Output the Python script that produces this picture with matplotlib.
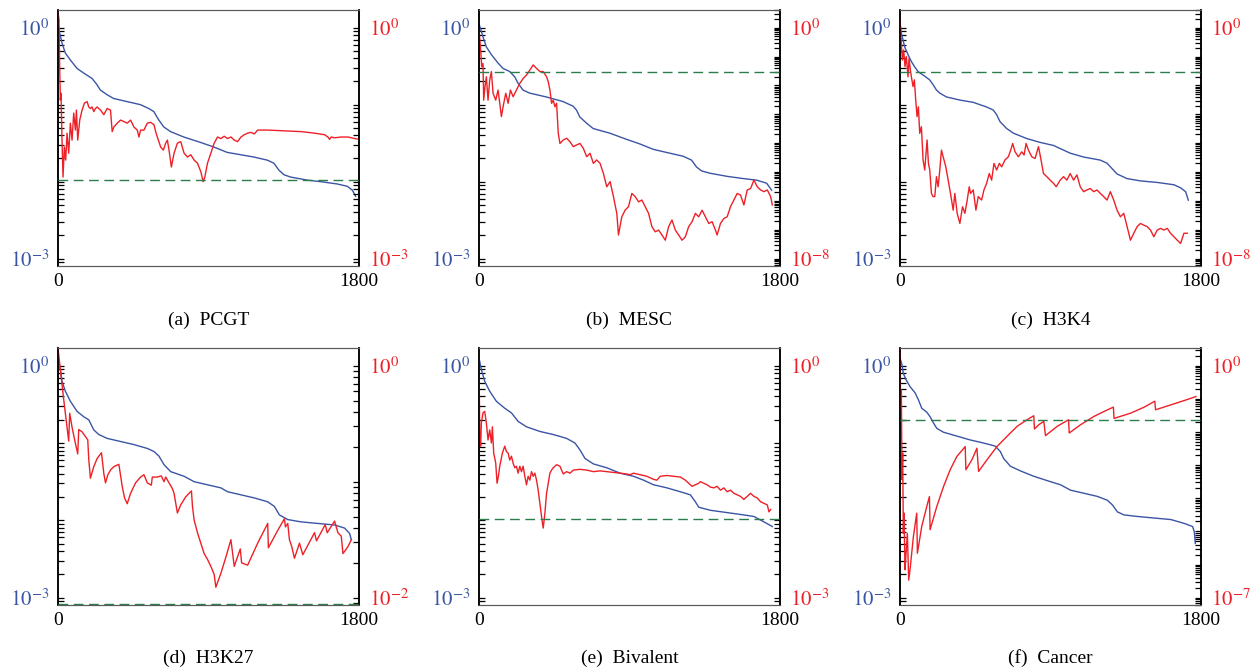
import numpy as np
import matplotlib
matplotlib.use('Agg')
import matplotlib.pyplot as plt
from matplotlib.ticker import LogLocator, NullFormatter

plt.rcParams['font.family'] = 'serif'
plt.rcParams['font.serif'] = ['Liberation Serif', 'DejaVu Serif']
plt.rcParams['mathtext.fontset'] = 'stix'

# values are (x, log10 y)
pcgt_blue = [(0, 0.0), (6, -0.03), (24, -0.20), (44, -0.33), (74, -0.42), (114, -0.53), (154, -0.59),
             (204, -0.66), (233, -0.74), (253, -0.81), (293, -0.87), (333, -0.92), (413, -0.96),
             (493, -1.00), (543, -1.05), (573, -1.09), (603, -1.20), (633, -1.29), (673, -1.35),
             (752, -1.42), (852, -1.49), (932, -1.55), (1012, -1.62), (1092, -1.65), (1171, -1.68),
             (1251, -1.72), (1291, -1.76), (1321, -1.85), (1351, -1.91), (1391, -1.94), (1491, -1.98),
             (1571, -2.00), (1670, -2.03), (1730, -2.06), (1760, -2.11), (1780, -2.19)]
pcgt_red = [(0, 0.2), (6, 0.10), (10, -0.51), (14, -0.94), (18, -0.85), (24, -1.46), (30, -1.94),
            (38, -1.55), (46, -1.72), (54, -1.37), (64, -1.63), (74, -1.24), (84, -1.46), (94, -1.11),
            (104, -1.33), (110, -1.07), (118, -1.46), (130, -1.20), (144, -1.07), (158, -0.98),
            (174, -0.96), (184, -1.03), (194, -1.05), (204, -1.03), (214, -1.09), (224, -1.05),
            (234, -1.03), (254, -1.07), (274, -1.13), (294, -1.05), (314, -1.07), (324, -1.35),
            (334, -1.29), (354, -1.24), (374, -1.20), (394, -1.22), (414, -1.24), (434, -1.20),
            (454, -1.29), (474, -1.33), (484, -1.42), (494, -1.33), (514, -1.33), (534, -1.24),
            (554, -1.23), (574, -1.26), (584, -1.35), (594, -1.42), (614, -1.55), (630, -1.59),
            (644, -1.50), (654, -1.46), (664, -1.59), (678, -1.81), (694, -1.63), (714, -1.50),
            (734, -1.48), (754, -1.63), (774, -1.68), (794, -1.65), (814, -1.72), (834, -1.76),
            (854, -1.87), (868, -2.00), (878, -1.94), (894, -1.76), (914, -1.63), (934, -1.50),
            (954, -1.42), (974, -1.44), (994, -1.41), (1014, -1.44), (1034, -1.42), (1054, -1.46),
            (1074, -1.48), (1094, -1.42), (1114, -1.39), (1134, -1.37), (1154, -1.36), (1174, -1.38),
            (1194, -1.33), (1214, -1.33), (1254, -1.33), (1354, -1.34), (1454, -1.35), (1534, -1.37),
            (1594, -1.39), (1614, -1.42), (1624, -1.45), (1634, -1.42), (1654, -1.43), (1694, -1.42),
            (1734, -1.42), (1774, -1.44), (1800, -1.45)]

mesc_blue = [(0, 0.05), (24, -0.12), (44, -0.25), (74, -0.35), (114, -0.46), (144, -0.53), (184, -0.57),
             (214, -0.64), (233, -0.72), (263, -0.81), (303, -0.85), (403, -0.90), (503, -0.96),
             (563, -1.02), (583, -1.07), (603, -1.16), (643, -1.24), (683, -1.31), (782, -1.37),
             (882, -1.45), (962, -1.51), (1042, -1.58), (1121, -1.62), (1221, -1.67), (1271, -1.72),
             (1301, -1.81), (1331, -1.86), (1381, -1.89), (1481, -1.93), (1581, -1.96), (1660, -1.98),
             (1720, -2.02), (1750, -2.11)]
mesc_red = [(0, -0.08), (10, -0.77), (16, -1.35), (24, -1.24), (28, -2.51), (36, -2.04), (44, -1.70),
            (54, -2.51), (64, -1.81), (74, -1.52), (84, -2.27), (100, -2.51), (114, -2.16), (134, -3.08),
            (144, -2.74), (160, -2.27), (174, -2.62), (188, -2.16), (204, -2.39), (224, -2.16),
            (244, -1.93), (264, -1.76), (284, -1.64), (304, -1.47), (324, -1.29), (344, -1.41),
            (364, -1.52), (384, -1.52), (404, -1.70), (414, -1.87), (424, -2.16), (434, -2.62),
            (444, -2.51), (454, -2.74), (464, -2.62), (474, -3.66), (484, -4.01), (504, -3.89),
            (524, -3.83), (544, -3.95), (564, -4.12), (584, -4.06), (604, -4.01), (624, -4.18),
            (644, -4.47), (664, -4.35), (684, -4.70), (704, -4.58), (724, -4.70), (744, -5.05),
            (764, -5.51), (784, -5.33), (804, -5.85), (824, -6.43), (834, -7.18), (854, -6.55),
            (874, -6.32), (894, -6.20), (914, -5.74), (934, -5.85), (954, -6.03), (974, -5.97),
            (994, -6.20), (1014, -6.43), (1034, -6.89), (1054, -7.07), (1074, -7.01), (1094, -7.18),
            (1114, -7.36), (1134, -6.89), (1154, -6.66), (1174, -7.01), (1194, -7.18), (1214, -7.36),
            (1234, -7.24), (1254, -6.89), (1274, -6.72), (1294, -6.43), (1314, -6.55), (1334, -6.32),
            (1354, -6.55), (1374, -6.78), (1394, -6.72), (1414, -7.01), (1424, -7.18), (1444, -6.78),
            (1464, -6.61), (1484, -6.55), (1504, -6.20), (1524, -5.97), (1544, -5.74), (1564, -5.80),
            (1584, -6.14), (1604, -5.62), (1624, -5.57), (1644, -5.28), (1664, -5.51), (1684, -5.62),
            (1704, -5.68), (1724, -5.62), (1744, -5.85), (1754, -6.14)]

h3k4_blue = [(0, 0.06), (8, -0.07), (18, -0.16), (28, -0.25), (48, -0.35), (68, -0.44), (88, -0.51),
             (108, -0.57), (148, -0.63), (178, -0.68), (198, -0.74), (218, -0.81), (238, -0.85),
             (278, -0.90), (358, -0.94), (438, -0.97), (518, -1.03), (558, -1.07), (578, -1.13),
             (598, -1.22), (638, -1.31), (678, -1.37), (758, -1.44), (838, -1.49), (918, -1.53),
             (978, -1.59), (1018, -1.63), (1098, -1.68), (1198, -1.72), (1238, -1.76), (1268, -1.83),
             (1298, -1.90), (1358, -1.96), (1438, -1.99), (1538, -2.01), (1638, -2.04), (1678, -2.08),
             (1708, -2.13), (1724, -2.24)]
h3k4_red = [(0, 0.3), (8, -0.54), (14, -1.12), (22, -0.77), (30, -1.35), (38, -1.00), (48, -1.70),
            (54, -1.06), (62, -1.47), (68, -1.70), (78, -2.04), (86, -1.81), (94, -2.51), (102, -3.08),
            (110, -2.74), (118, -3.66), (128, -3.43), (138, -4.58), (148, -4.93), (154, -4.47),
            (162, -3.89), (170, -4.70), (178, -4.93), (188, -5.74), (198, -5.85), (208, -5.85),
            (218, -5.16), (228, -5.51), (238, -4.93), (248, -4.24), (258, -4.47), (274, -4.82),
            (288, -5.28), (302, -5.74), (318, -6.32), (328, -5.74), (342, -6.43), (358, -6.78),
            (374, -6.20), (388, -6.43), (402, -5.97), (414, -5.51), (422, -5.74), (438, -5.62),
            (454, -6.32), (468, -5.85), (488, -5.97), (502, -5.62), (518, -5.39), (534, -5.05),
            (548, -5.28), (562, -4.70), (578, -4.93), (594, -4.70), (608, -4.82), (628, -4.58),
            (648, -4.47), (662, -4.24), (674, -4.01), (688, -4.30), (708, -4.47), (728, -4.30),
            (742, -4.41), (754, -4.01), (768, -4.24), (788, -4.47), (808, -4.53), (828, -4.12),
            (838, -4.41), (858, -5.05), (878, -5.16), (898, -5.28), (918, -5.39), (934, -5.51),
            (958, -5.28), (978, -5.16), (998, -5.28), (1018, -5.05), (1038, -5.28), (1058, -5.10),
            (1078, -5.51), (1098, -5.68), (1118, -5.62), (1138, -5.57), (1158, -5.68), (1178, -5.62),
            (1198, -5.74), (1218, -5.85), (1238, -5.97), (1258, -5.68), (1278, -5.97), (1298, -6.32),
            (1318, -6.55), (1338, -6.43), (1358, -6.89), (1368, -7.12), (1378, -7.36), (1398, -7.12),
            (1418, -6.89), (1438, -6.78), (1458, -6.84), (1478, -6.89), (1498, -7.01), (1518, -7.24),
            (1538, -7.01), (1558, -6.95), (1578, -7.01), (1598, -6.95), (1618, -7.12), (1638, -7.24),
            (1658, -7.36), (1678, -7.47), (1698, -7.12), (1718, -7.12)]

h3k27_blue = [(0, 0.08), (14, -0.05), (24, -0.20), (44, -0.33), (74, -0.46), (114, -0.59), (154, -0.66),
              (184, -0.70), (214, -0.83), (244, -0.89), (294, -0.94), (374, -0.98), (454, -1.02),
              (534, -1.07), (574, -1.11), (604, -1.17), (634, -1.28), (674, -1.37), (754, -1.43),
              (814, -1.50), (894, -1.54), (974, -1.58), (1014, -1.63), (1094, -1.67), (1174, -1.71),
              (1254, -1.76), (1294, -1.82), (1324, -1.93), (1374, -1.99), (1454, -2.02), (1554, -2.04),
              (1654, -2.06), (1714, -2.10), (1744, -2.17), (1754, -2.25)]
h3k27_red = [(0, 0.15), (14, -0.03), (34, -0.29), (64, -0.65), (70, -0.41), (84, -0.53), (104, -0.67),
             (118, -0.76), (124, -0.55), (144, -0.57), (164, -0.61), (178, -0.64), (184, -0.81),
             (194, -0.97), (214, -0.87), (234, -0.80), (260, -0.75), (274, -0.93), (284, -1.01),
             (298, -0.94), (314, -0.90), (334, -0.87), (364, -0.85), (384, -1.04), (398, -1.14),
             (414, -1.19), (434, -1.10), (464, -1.01), (494, -0.96), (514, -0.94), (534, -1.01),
             (558, -1.03), (564, -0.96), (594, -0.96), (618, -0.95), (634, -1.00), (644, -0.96),
             (664, -1.01), (684, -1.06), (694, -1.10), (714, -1.27), (734, -1.20), (764, -1.13),
             (798, -1.08), (804, -1.21), (814, -1.33), (834, -1.44), (854, -1.53), (874, -1.62),
             (894, -1.67), (914, -1.73), (934, -1.80), (944, -1.91), (974, -1.79), (1004, -1.65),
             (1034, -1.50), (1054, -1.73), (1090, -1.58), (1098, -1.70), (1134, -1.72), (1194, -1.53),
             (1254, -1.36), (1258, -1.57), (1314, -1.42), (1354, -1.32), (1360, -1.39), (1374, -1.36),
             (1384, -1.50), (1398, -1.56), (1414, -1.66), (1444, -1.53), (1464, -1.63), (1534, -1.44),
             (1546, -1.51), (1598, -1.37), (1610, -1.44), (1654, -1.34), (1674, -1.44), (1694, -1.47),
             (1704, -1.62), (1734, -1.56), (1754, -1.50)]

bival_blue = [(0, 0.1), (14, -0.05), (34, -0.20), (64, -0.33), (104, -0.46), (154, -0.55), (194, -0.61),
              (234, -0.72), (284, -0.79), (364, -0.85), (444, -0.89), (524, -0.94), (574, -1.00),
              (604, -1.09), (634, -1.20), (684, -1.27), (764, -1.32), (844, -1.39), (924, -1.43),
              (984, -1.48), (1044, -1.54), (1124, -1.58), (1204, -1.63), (1264, -1.67), (1294, -1.76),
              (1314, -1.83), (1384, -1.87), (1484, -1.90), (1584, -1.93), (1644, -1.95), (1704, -2.02),
              (1754, -2.08)]
bival_red = [(0, 0.21), (4, -0.87), (10, -1.04), (14, -0.74), (24, -0.61), (34, -0.59), (44, -0.74),
             (54, -0.96), (64, -0.83), (74, -1.00), (80, -0.79), (88, -1.13), (100, -1.26), (108, -1.52),
             (116, -1.43), (124, -1.30), (140, -1.13), (154, -1.04), (164, -1.11), (174, -1.13),
             (184, -1.22), (194, -1.17), (204, -1.26), (214, -1.32), (224, -1.30), (234, -1.39),
             (244, -1.30), (254, -1.37), (264, -1.30), (274, -1.43), (284, -1.54), (294, -1.43),
             (304, -1.48), (314, -1.37), (324, -1.43), (334, -1.39), (344, -1.48), (354, -1.61),
             (364, -1.78), (374, -1.95), (384, -2.10), (394, -1.91), (404, -1.65), (414, -1.52),
             (424, -1.39), (434, -1.35), (444, -1.32), (464, -1.28), (484, -1.30), (504, -1.40),
             (524, -1.37), (544, -1.39), (564, -1.35), (604, -1.34), (644, -1.35), (684, -1.37),
             (724, -1.36), (764, -1.37), (804, -1.38), (844, -1.39), (884, -1.40), (904, -1.41),
             (924, -1.39), (964, -1.41), (1004, -1.43), (1044, -1.47), (1064, -1.48), (1084, -1.43),
             (1124, -1.42), (1164, -1.43), (1204, -1.44), (1234, -1.48), (1254, -1.52), (1274, -1.56),
             (1294, -1.54), (1314, -1.52), (1324, -1.50), (1344, -1.52), (1364, -1.54), (1384, -1.57),
             (1404, -1.58), (1424, -1.56), (1444, -1.61), (1464, -1.58), (1484, -1.63), (1504, -1.61),
             (1524, -1.65), (1544, -1.67), (1564, -1.69), (1584, -1.73), (1604, -1.69), (1624, -1.65),
             (1644, -1.69), (1664, -1.71), (1684, -1.76), (1704, -1.78), (1724, -1.80), (1734, -1.89),
             (1744, -1.86)]

cancer_blue = [(0, 0.1), (10, 0.03), (20, -0.10), (36, -0.18), (60, -0.27), (90, -0.35), (110, -0.44),
               (130, -0.55), (160, -0.60), (180, -0.66), (200, -0.74), (220, -0.81), (260, -0.86),
               (340, -0.91), (420, -0.96), (500, -1.00), (570, -1.04), (600, -1.11), (620, -1.20),
               (660, -1.30), (720, -1.36), (800, -1.43), (900, -1.50), (960, -1.54), (1020, -1.61),
               (1100, -1.65), (1180, -1.69), (1240, -1.74), (1270, -1.80), (1300, -1.89), (1340, -1.93),
               (1420, -1.95), (1520, -1.97), (1620, -1.99), (1700, -2.04), (1750, -2.08), (1760, -2.15),
               (1766, -2.30)]
cancer_red = [(0, 0.53), (4, -1.33), (8, -0.73), (12, -3.44), (16, -2.64), (20, -5.06), (24, -4.45),
              (30, -6.16), (36, -5.66), (44, -5.06), (52, -6.47), (60, -6.16), (80, -5.16), (100, -4.45),
              (104, -5.66), (130, -4.85), (160, -4.25), (176, -3.95), (180, -4.95), (220, -4.25),
              (260, -3.65), (300, -3.14), (340, -2.74), (390, -2.44), (394, -3.14), (430, -2.84),
              (460, -2.49), (470, -3.19), (520, -2.84), (580, -2.44), (640, -2.13), (700, -1.83),
              (760, -1.63), (800, -1.51), (804, -1.91), (830, -1.78), (860, -1.68), (870, -2.11),
              (940, -1.83), (1008, -1.63), (1012, -2.03), (1080, -1.78), (1160, -1.53), (1220, -1.38),
              (1276, -1.25), (1280, -1.59), (1380, -1.43), (1460, -1.25), (1524, -1.07), (1528, -1.33),
              (1620, -1.18), (1700, -1.05), (1770, -0.93)]

captions = ['(a)  PCGT', '(b)  MESC', '(c)  H3K4', '(d)  H3K27', '(e)  Bivalent', '(f)  Cancer']
blue_series = [pcgt_blue, mesc_blue, h3k4_blue, h3k27_blue, bival_blue, cancer_blue]
red_series = [pcgt_red, mesc_red, h3k4_red, h3k27_red, bival_red, cancer_red]
red_decades = [3, 8, 8, 2, 3, 7]
threshold_log = [-1.98, -1.55, -1.55, -2.055, -1.98, -1.65]

c_blue = '#3B55A5'
c_red = '#EE2027'
c_green = '#2B7D4A'

fig = plt.figure(figsize=(12.54, 6.69), dpi=100)

lefts = [58 / 1254, 479 / 1254, 900 / 1254]
width = 301 / 1254
bottoms = [(669 - 266) / 669, (669 - 605) / 669]
heights = [256 / 669, 257 / 669]
cap_y = [1 - 320 / 669, 1 - 658 / 669]


def log_limits(n):
    D = n / 0.9024
    return 10 ** (-n - 0.0286 * D), 10 ** (0.069 * D)


for i in range(6):
    row, col = divmod(i, 3)
    ax1 = fig.add_axes([lefts[col], bottoms[row], width, heights[row]])
    ax2 = ax1.twinx()
    ax1.set_yscale('log')
    ax2.set_yscale('log')

    bx, by = np.array(blue_series[i]).T
    rx, ry = np.array(red_series[i]).T
    ax1.plot(bx, 10 ** by, color=c_blue, lw=1.0)
    ax2.plot(rx, 10 ** ry, color=c_red, lw=1.0)
    ax2.axhline(10 ** threshold_log[i], color=c_green, lw=1.0, ls=(0, (7, 4)), zorder=3)

    ax1.set_xlim(0, 1800)
    ax1.set_ylim(*log_limits(3))
    n = red_decades[i]
    ax2.set_ylim(*log_limits(n))

    ax1.set_yticks([1, 1e-3], labels=[r'$10^{0}$', r'$10^{-3}$'])
    ax2.set_yticks([1, 10.0 ** -n], labels=[r'$10^{0}$', r'$10^{-%d}$' % n])
    for ax in (ax1, ax2):
        ax.yaxis.set_minor_locator(LogLocator(base=10, subs=np.arange(1, 10), numticks=100))
        ax.yaxis.set_minor_formatter(NullFormatter())
        for s in ('top', 'bottom'):
            ax.spines[s].set_color('#5a5a5a')
            ax.spines[s].set_linewidth(0.8)
        for s in ('left', 'right'):
            ax.spines[s].set_color('black')
            ax.spines[s].set_linewidth(1.1)

    ax1.tick_params(axis='y', which='both', direction='in', length=4.5, width=0.9,
                    labelcolor=c_blue, labelsize=15, pad=6)
    ax2.tick_params(axis='y', which='both', direction='in', length=4.5, width=0.9,
                    labelcolor=c_red, labelsize=15, pad=7)
    ax1.set_xticks([0, 1800], labels=['0', '1800'])
    ax1.tick_params(axis='x', length=0, labelsize=14, pad=5)

    fig.text(lefts[col] + width / 2, cap_y[row], captions[i], ha='center', va='center', fontsize=14)

fig.savefig('out.png', dpi=100)
